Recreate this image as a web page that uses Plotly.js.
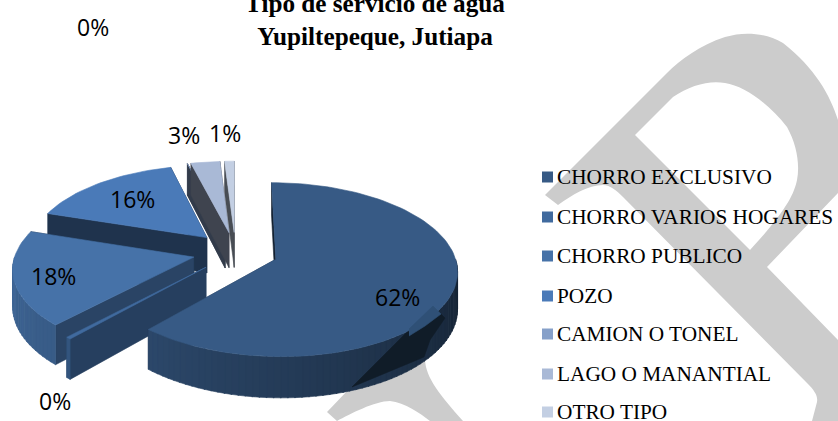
<!DOCTYPE html>
<html><head><meta charset="utf-8">
<script src="https://cdn.plot.ly/plotly-3.0.1.min.js"></script>
<style>html,body{margin:0;padding:0;background:#fff;overflow:hidden}#c{width:838px;height:421px}</style>
</head><body><div id="c"></div>
<script>
// ---- data ----
const categories = ["CHORRO EXCLUSIVO","CHORRO VARIOS HOGARES","CHORRO PUBLICO","POZO","CAMION O TONEL","LAGO O MANANTIAL","OTRO TIPO"];
const values = [61.6,0.4,18,16,0,3,1];
const colors = ["#375a85","#406a9e","#4672a8","#4a7ab8","#86a0c9","#a9b9d6","#c3cfe3"];
const legendRows = [177,217,256,296,334,374,412];
const labelPos = [[397,297],[55,401],[53,276],[132,199],[93,27],[184,135],[225,133]];
const paintOrder = [6,4,5,3,2,1,0];

// ---- pie camera ----
const CX=235.5, CY=252, RX=178, KY=84, PERSP=0.118, DEPTH=36, EXPLODE=0.24, START=0;
const rad=d=>d*Math.PI/180;
function project(X,Y,low){const s=1/(1-PERSP*Y);return [CX+X*RX*s, CY+KY*Y*s+(low?DEPTH*s:0)];}
function rgb(h){return [1,3,5].map(i=>parseInt(h.substr(i,2),16));}
function shade(h,f){return 'rgb('+rgb(h).map(c=>Math.round(c*f)).join(',')+')';}
function lerpStops(st,t){for(let i=0;i<st.length-1;i++){if(t<=st[i+1][0]){const a=st[i],b=st[i+1];return a[1]+(b[1]-a[1])*(t-a[0])/(b[0]-a[0]);}}return st[st.length-1][1];}
const wallLight=[[0,.37],[90,.37],[223,.8],[270,.9],[360,.9]];
const faceLight=[[0,.37],[223,.6],[288,.42],[345,.37],[360,.37]];
const traces=[];
function poly(pts,fill,w,lc){traces.push({type:'scatter',mode:'lines',x:pts.map(p=>p[0]),y:pts.map(p=>p[1]),fill:'toself',fillcolor:fill,line:{color:lc||fill,width:w===undefined?0.6:w},hoverinfo:'skip',showlegend:false});}

// slice angles from the values
const total=values.reduce((a,b)=>a+b,0);
let acc=0;
const slices=values.map((v,i)=>{const a0=acc/total*360;acc+=v;const a1=acc/total*360;return {i,a0,a1};});
function drawSlice(sl,beforeTop){
  const col=colors[sl.i], mid=rad((sl.a0+sl.a1)/2+START);
  const ox=EXPLODE*Math.sin(mid), oy=-EXPLODE*Math.cos(mid);
  const pt=a=>[ox+Math.sin(rad(a+START)),oy-Math.cos(rad(a+START))];
  const faceOf=a=>{const e=pt(a);const t0=project(ox,oy,false),b0=project(ox,oy,true),t1=project(e[0],e[1],false),b1=project(e[0],e[1],true);
    const nor=((a%360)+360)%360; poly([t0,t1,b1,b0,t0],shade(col,lerpStops(faceLight,nor===0?359:nor)));};
  faceOf(sl.a1); faceOf(sl.a0);
  // outer curved wall, front half only
  const from=Math.max(sl.a0,90), to=Math.min(sl.a1,270), step=2;
  for(let a=from;a<to;a+=step){
    const b=Math.min(a+step+0.3,to),p=pt(a),q=pt(b);
    poly([project(p[0],p[1]),project(q[0],q[1]),project(q[0],q[1],true),project(p[0],p[1],true),project(p[0],p[1])],shade(col,lerpStops(wallLight,(a+b)/2)));
  }
  if(beforeTop) beforeTop();
  // top surface
  const top=[project(ox,oy)];
  const n=Math.max(1,Math.ceil((sl.a1-sl.a0)/2));
  for(let k=0;k<=n;k++){const p=pt(sl.a0+(sl.a1-sl.a0)*k/n);top.push(project(p[0],p[1]));}
  top.push(project(ox,oy));
  poly(top,col);
}
paintOrder.forEach(i=>drawSlice(slices[i], i===0 ? ()=>{
  // dark reflection band on the big slice's wall
  poly([[352,387],[433,306],[445,318],[430,340],[424,357],[352,387]],'#101c28');
} : null));
poly([[409,329],[433,306],[441,314],[425,326],[409,336]],'#2f5076');

// legend swatches
traces.push({type:'scatter',mode:'markers',x:legendRows.map(()=>547.5),y:legendRows,marker:{symbol:'square',size:11,color:colors},hoverinfo:'skip',showlegend:false});

const annotations=[];
categories.forEach((c,i)=>annotations.push({x:555,y:legendRows[i],xref:'x',yref:'y',text:c,showarrow:false,xanchor:'left',yanchor:'middle',font:{family:'Liberation Serif',size:21.3,color:'#000'}}));
values.forEach((v,i)=>annotations.push({x:labelPos[i][0],y:labelPos[i][1],xref:'x',yref:'y',text:Math.round(v)+'%',showarrow:false,xanchor:'center',yanchor:'middle',font:{family:'Open Sans',size:23,color:'#000'}}));

const wm="M545,195 L558,205 C572,195 588,185 603,185 C610,185 617,191 623,197 L807,383 C815,391 818,396 817,402 L812,421 L838,421 L838,340 L767,267 L838,193 L838,120 C830,95 815,68 783,43 C765,33 745,31 725,37 C700,45 680,60 667,73 Z "+
 "M635,135 L673,97 C690,85 710,80 725,83 C745,86 770,105 787,127 C797,145 800,165 797,180 C794,195 785,212 750,250 Z";
const wm2="M327,412 L372,365 L425,360 C426,378 440,395 463,421 L430,421 C420,413 405,403 390,401 C375,401 350,414 337,421 Z";

Plotly.newPlot('c',traces,{
  width:838,height:421,margin:{l:0,r:0,t:0,b:0},paper_bgcolor:'#fff',plot_bgcolor:'rgba(0,0,0,0)',showlegend:false,
  title:{text:'<b>Tipo de servicio de agua<br>Yupiltepeque, Jutiapa</b>',x:375/838,xanchor:'center',y:0.972,yanchor:'middle',font:{family:'Liberation Serif',size:25.2,color:'#000'}},
  xaxis:{range:[0,838],visible:false,fixedrange:true},
  yaxis:{range:[421,0],visible:false,fixedrange:true},
  shapes:[{type:'path',path:wm,fillcolor:'#cccccc',line:{width:0},layer:'below',xref:'x',yref:'y'},
          {type:'path',path:wm2,fillcolor:'#cccccc',line:{width:0},layer:'below',xref:'x',yref:'y'}],
  annotations
},{displayModeBar:false,staticPlot:true});
</script></body></html>
